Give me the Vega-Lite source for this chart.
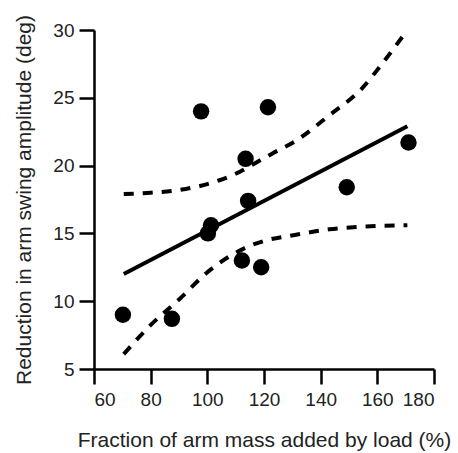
{
  "$schema": "https://vega.github.io/schema/vega-lite/v6.json",
  "width": 340,
  "height": 339,
  "autosize": {"type": "none"},
  "padding": {"left": 94, "top": 30, "right": 24, "bottom": 84},
  "background": "white",
  "config": {
    "view": {"stroke": null},
    "font": "Liberation Sans",
    "axis": {
      "grid": false,
      "domainColor": "black",
      "domainWidth": 2.5,
      "tickColor": "black",
      "tickWidth": 2.5,
      "tickSize": 15,
      "labelFont": "Liberation Sans",
      "labelFontSize": 19,
      "labelColor": "#222",
      "titleFont": "Liberation Sans",
      "titleFontSize": 21,
      "titleFontWeight": "normal",
      "titleColor": "#222"
    }
  },
  "datasets": {
    "pts": [
      {"x": 70.2, "y": 9.0},
      {"x": 87.5, "y": 8.7},
      {"x": 97.8, "y": 24.0},
      {"x": 100.2, "y": 15.0},
      {"x": 101.3, "y": 15.6},
      {"x": 112.2, "y": 13.0},
      {"x": 113.5, "y": 20.5},
      {"x": 114.4, "y": 17.4},
      {"x": 119.0, "y": 12.5},
      {"x": 121.4, "y": 24.3},
      {"x": 149.2, "y": 18.4},
      {"x": 171.0, "y": 21.7}
    ],
    "fit": [
      {"x": 70.5, "y": 12.0},
      {"x": 170.6, "y": 22.9}
    ],
    "ci": [
      {"band": "upper", "x": 70.5, "y": 17.9},
      {"band": "upper", "x": 80, "y": 18.0},
      {"band": "upper", "x": 90, "y": 18.2},
      {"band": "upper", "x": 97.4, "y": 18.5},
      {"band": "upper", "x": 104, "y": 18.9},
      {"band": "upper", "x": 110, "y": 19.4},
      {"band": "upper", "x": 117, "y": 20.2},
      {"band": "upper", "x": 123, "y": 20.9},
      {"band": "upper", "x": 131, "y": 21.8},
      {"band": "upper", "x": 143, "y": 23.7},
      {"band": "upper", "x": 154.6, "y": 25.7},
      {"band": "upper", "x": 162, "y": 27.6},
      {"band": "upper", "x": 170.6, "y": 30.0},
      {"band": "lower", "x": 70.5, "y": 6.1},
      {"band": "lower", "x": 79.8, "y": 8.2},
      {"band": "lower", "x": 90.4, "y": 10.2},
      {"band": "lower", "x": 99.8, "y": 12.1},
      {"band": "lower", "x": 107, "y": 13.2},
      {"band": "lower", "x": 113, "y": 13.9},
      {"band": "lower", "x": 119.3, "y": 14.4},
      {"band": "lower", "x": 131.3, "y": 14.9},
      {"band": "lower", "x": 143, "y": 15.3},
      {"band": "lower", "x": 154.6, "y": 15.5},
      {"band": "lower", "x": 170.6, "y": 15.6}
    ]
  },
  "layer": [
    {
      "data": {"name": "ci"},
      "mark": {"type": "line", "color": "black", "strokeWidth": 4, "strokeDash": [10, 9], "interpolate": "monotone"},
      "encoding": {
        "x": {"field": "x", "type": "quantitative"},
        "y": {"field": "y", "type": "quantitative"},
        "detail": {"field": "band"}
      }
    },
    {
      "data": {"name": "fit"},
      "mark": {"type": "line", "color": "black", "strokeWidth": 4},
      "encoding": {
        "x": {"field": "x", "type": "quantitative"},
        "y": {"field": "y", "type": "quantitative"}
      }
    },
    {
      "data": {"name": "pts"},
      "mark": {"type": "point", "shape": "circle", "filled": true, "color": "black", "opacity": 1, "size": 270},
      "encoding": {
        "x": {
          "field": "x", "type": "quantitative",
          "scale": {"domain": [60, 180], "nice": false, "zero": false},
          "axis": {"values": [60, 80, 100, 120, 140, 160, 180], "title": "Fraction of arm mass added by load (%)", "labelPadding": 6, "titlePadding": 20}
        },
        "y": {
          "field": "y", "type": "quantitative",
          "scale": {"domain": [5, 30], "nice": false, "zero": false},
          "axis": {"values": [5, 10, 15, 20, 25, 30], "title": "Reduction in arm swing amplitude (deg)", "labelPadding": 5, "titlePadding": 18}
        }
      }
    }
  ]
}
